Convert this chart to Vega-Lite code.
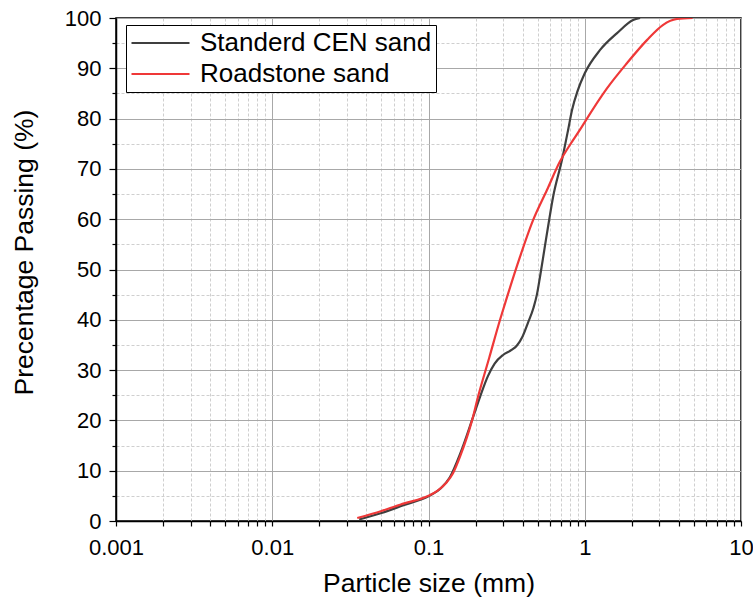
{
  "$schema": "https://vega.github.io/schema/vega-lite/v6.json",
  "width": 625,
  "height": 503,
  "autosize": {"type": "none"},
  "padding": {"left": 116, "top": 18, "right": 12, "bottom": 82},
  "background": "white",
  "config": {
    "font": "Liberation Sans",
    "view": {"stroke": "black", "strokeWidth": 1.5},
    "axis": {
      "domainColor": "black",
      "domainWidth": 1.5,
      "tickColor": "black",
      "tickWidth": 1.2,
      "labelColor": "black",
      "titleColor": "black",
      "labelFontSize": 22,
      "titleFontWeight": "normal"
    }
  },
  "data": {
    "values": [
      {"size": 0.036, "pass": 0.3, "sand": "Standerd CEN sand"},
      {"size": 0.05, "pass": 1.6, "sand": "Standerd CEN sand"},
      {"size": 0.07, "pass": 3.2, "sand": "Standerd CEN sand"},
      {"size": 0.1, "pass": 4.9, "sand": "Standerd CEN sand"},
      {"size": 0.12, "pass": 6.5, "sand": "Standerd CEN sand"},
      {"size": 0.137, "pass": 8.7, "sand": "Standerd CEN sand"},
      {"size": 0.16, "pass": 13.5, "sand": "Standerd CEN sand"},
      {"size": 0.193, "pass": 20.7, "sand": "Standerd CEN sand"},
      {"size": 0.2138, "pass": 24.7, "sand": "Standerd CEN sand"},
      {"size": 0.24, "pass": 28.8, "sand": "Standerd CEN sand"},
      {"size": 0.265, "pass": 31.3, "sand": "Standerd CEN sand"},
      {"size": 0.3, "pass": 33.0, "sand": "Standerd CEN sand"},
      {"size": 0.34, "pass": 34.0, "sand": "Standerd CEN sand"},
      {"size": 0.368, "pass": 34.9, "sand": "Standerd CEN sand"},
      {"size": 0.4, "pass": 36.7, "sand": "Standerd CEN sand"},
      {"size": 0.433, "pass": 39.4, "sand": "Standerd CEN sand"},
      {"size": 0.47, "pass": 42.4, "sand": "Standerd CEN sand"},
      {"size": 0.494, "pass": 45, "sand": "Standerd CEN sand"},
      {"size": 0.517, "pass": 48.5, "sand": "Standerd CEN sand"},
      {"size": 0.557, "pass": 54.8, "sand": "Standerd CEN sand"},
      {"size": 0.59, "pass": 59.6, "sand": "Standerd CEN sand"},
      {"size": 0.627, "pass": 64.4, "sand": "Standerd CEN sand"},
      {"size": 0.715, "pass": 71.8, "sand": "Standerd CEN sand"},
      {"size": 0.782, "pass": 77.7, "sand": "Standerd CEN sand"},
      {"size": 0.829, "pass": 81.7, "sand": "Standerd CEN sand"},
      {"size": 0.9, "pass": 85.5, "sand": "Standerd CEN sand"},
      {"size": 1.0, "pass": 89, "sand": "Standerd CEN sand"},
      {"size": 1.25, "pass": 93.6, "sand": "Standerd CEN sand"},
      {"size": 1.61, "pass": 97, "sand": "Standerd CEN sand"},
      {"size": 2.04, "pass": 99.6, "sand": "Standerd CEN sand"},
      {"size": 2.26, "pass": 100, "sand": "Standerd CEN sand"},
      {"size": 0.035, "pass": 0.6, "sand": "Roadstone sand"},
      {"size": 0.05, "pass": 2.0, "sand": "Roadstone sand"},
      {"size": 0.07, "pass": 3.5, "sand": "Roadstone sand"},
      {"size": 0.1, "pass": 5, "sand": "Roadstone sand"},
      {"size": 0.115, "pass": 6.1, "sand": "Roadstone sand"},
      {"size": 0.13, "pass": 7.6, "sand": "Roadstone sand"},
      {"size": 0.1435, "pass": 9.5, "sand": "Roadstone sand"},
      {"size": 0.16, "pass": 13, "sand": "Roadstone sand"},
      {"size": 0.19, "pass": 20, "sand": "Roadstone sand"},
      {"size": 0.2075, "pass": 24.7, "sand": "Roadstone sand"},
      {"size": 0.245, "pass": 32.5, "sand": "Roadstone sand"},
      {"size": 0.287, "pass": 40, "sand": "Roadstone sand"},
      {"size": 0.318, "pass": 44.5, "sand": "Roadstone sand"},
      {"size": 0.385, "pass": 52.5, "sand": "Roadstone sand"},
      {"size": 0.467, "pass": 59.8, "sand": "Roadstone sand"},
      {"size": 0.573, "pass": 65.8, "sand": "Roadstone sand"},
      {"size": 0.695, "pass": 71.5, "sand": "Roadstone sand"},
      {"size": 0.805, "pass": 74.8, "sand": "Roadstone sand"},
      {"size": 0.955, "pass": 78.3, "sand": "Roadstone sand"},
      {"size": 1.0, "pass": 79.3, "sand": "Roadstone sand"},
      {"size": 1.387, "pass": 86.0, "sand": "Roadstone sand"},
      {"size": 1.86, "pass": 91, "sand": "Roadstone sand"},
      {"size": 2.5, "pass": 95.6, "sand": "Roadstone sand"},
      {"size": 3.16, "pass": 98.6, "sand": "Roadstone sand"},
      {"size": 3.89, "pass": 99.8, "sand": "Roadstone sand"},
      {"size": 4.9, "pass": 100, "sand": "Roadstone sand"}
    ]
  },
  "mark": {"type": "line", "interpolate": "monotone", "strokeWidth": 2.2, "clip": true},
  "encoding": {
    "x": {
      "field": "size",
      "type": "quantitative",
      "scale": {"type": "log", "domain": [0.001, 10], "nice": false},
      "axis": {
        "title": "Particle size (mm)",
        "titleFontSize": 26.5,
        "titlePadding": 12,
        "values": [0.001, 0.002, 0.003, 0.004, 0.005, 0.006, 0.007, 0.008, 0.009,
                   0.01, 0.02, 0.03, 0.04, 0.05, 0.06, 0.07, 0.08, 0.09,
                   0.1, 0.2, 0.3, 0.4, 0.5, 0.6, 0.7, 0.8, 0.9,
                   1, 2, 3, 4, 5, 6, 7, 8, 9, 10],
        "labelExpr": "abs(log(datum.value)/LN10 - round(log(datum.value)/LN10)) < 0.000001 ? datum.label : ''",
        "labelPadding": 11,
        "tickSize": 5,
        "labelFlush": false,
        "labelOverlap": false,
        "grid": true,
        "gridColor": {"condition": {"test": "abs(log(datum.value)/LN10 - round(log(datum.value)/LN10)) < 0.000001", "value": "#a8a8a8"}, "value": "#cfcfcf"},
        "gridDash": {"condition": {"test": "abs(log(datum.value)/LN10 - round(log(datum.value)/LN10)) < 0.000001", "value": []}, "value": [3, 2]},
        "gridWidth": 1
      }
    },
    "y": {
      "field": "pass",
      "type": "quantitative",
      "scale": {"domain": [0, 100], "nice": false},
      "axis": {
        "title": "Precentage Passing (%)",
        "titleFontSize": 26.5,
        "titlePadding": 26,
        "titleY": 234,
        "values": [0, 5, 10, 15, 20, 25, 30, 35, 40, 45, 50, 55, 60, 65, 70, 75, 80, 85, 90, 95, 100],
        "labelExpr": "datum.value % 10 == 0 ? datum.label : ''",
        "labelPadding": 8,
        "tickSize": {"condition": {"test": "datum.value % 10 == 0", "value": 7}, "value": 4},
        "grid": true,
        "gridColor": {"condition": {"test": "datum.value % 10 == 0", "value": "#a8a8a8"}, "value": "#cfcfcf"},
        "gridDash": {"condition": {"test": "datum.value % 10 == 0", "value": []}, "value": [3, 2]},
        "gridWidth": 1
      }
    },
    "color": {
      "field": "sand",
      "type": "nominal",
      "scale": {"domain": ["Standerd CEN sand", "Roadstone sand"], "range": ["#3f3f3f", "#ef3838"]},
      "legend": {
        "title": null,
        "orient": "none",
        "legendX": 10,
        "legendY": 7,
        "symbolType": "stroke",
        "symbolSize": 3364,
        "symbolStrokeWidth": 2.2,
        "clipHeight": 28,
        "labelFontSize": 26,
        "labelColor": "black",
        "labelOffset": 9,
        "strokeColor": "black",
        "fillColor": "white",
        "padding": 4,
        "rowPadding": 3,
        "labelLimit": 400
      }
    }
  }
}
